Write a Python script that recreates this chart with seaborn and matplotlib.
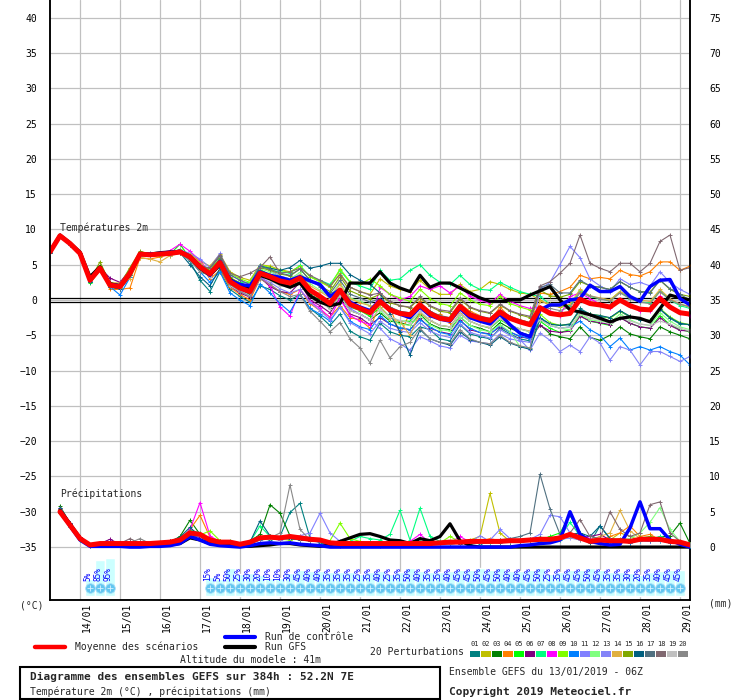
import numpy as np
import pandas as pd
import matplotlib
matplotlib.use("Agg")
import matplotlib.pyplot as plt
import seaborn as sns
from matplotlib.lines import Line2D
from matplotlib.patches import Rectangle
from matplotlib.transforms import ScaledTranslation

# 6-hourly steps from 13/01/2019 06Z (hours since start)
hours_temp = list(range(0, 385, 6))
hours_rain = list(range(6, 385, 6))

day_hours = list(range(18, 385, 24))
day_labels = ["14/01", "15/01", "16/01", "17/01", "18/01", "19/01", "20/01", "21/01",
              "22/01", "23/01", "24/01", "25/01", "26/01", "27/01", "28/01", "29/01"]

# --- temperature 2m (degC) ---
temp_mean = [6.8, 9.1, 8.0, 6.6, 2.8, 4.5, 2.1, 1.9, 3.8, 6.5, 6.4, 6.5, 6.6, 6.8, 6.1, 4.7,
             3.7, 5.3, 2.6, 1.7, 1.2, 3.8, 3.3, 2.7, 2.4, 3.1, 1.4, 0.5, -0.5, 1.4, -0.6, -1.2, -1.8,
             -0.2, -1.4, -1.9, -2.1, -0.7, -1.9, -2.6, -2.8, -0.9, -2.1, -2.6, -2.9, -1.7, -2.6, -3.1, -3.5,
             -1.1, -1.9, -2.1, -1.9, 0.1, -0.5, -0.7, -1.0, 0.0, -0.8, -1.3, -1.4, 0.2, -1.0, -1.8, -2.0]
temp_ctrl = [6.8, 9.1, 8.0, 6.6, 2.9, 4.5, 2.2, 2.0, 3.8, 6.5, 6.5, 6.6, 6.7, 6.9, 6.2, 4.8,
             3.5, 5.5, 2.8, 2.2, 2.0, 4.0, 3.5, 3.2, 2.8, 3.3, 2.7, 2.2, 0.5, 1.5, -0.3, -1.0, -1.5,
             0.0, -1.5, -2.0, -2.5, -1.0, -2.2, -2.7, -3.0, -1.2, -2.5, -3.0, -3.4, -2.0, -3.5, -4.7, -5.2,
             -1.4, -0.7, -0.7, 0.0, 0.2, 2.1, 1.2, 1.2, 1.9, 0.5, -0.2, 1.9, 2.8, 2.9, 0.2, -0.7]
temp_gfs = [6.9, 9.2, 8.1, 6.8, 3.3, 4.7, 2.3, 2.0, 3.6, 6.6, 6.5, 6.7, 6.8, 6.9, 6.0, 4.5,
            3.5, 5.0, 2.9, 2.0, 1.5, 3.5, 3.0, 2.3, 1.8, 2.4, 0.6, -0.3, -0.8, -0.5, 2.4, 2.4, 2.4,
            4.0, 2.4, 1.7, 1.2, 3.5, 1.8, 2.4, 2.4, 1.7, 1.0, 0.3, -0.2, -0.2, 0.0, 0.0, 0.7,
            1.3, 1.9, 0.0, -1.4, -1.7, -2.1, -2.6, -3.1, -2.6, -2.4, -2.6, -3.1, -1.2, 0.7, 0.3, 0.0]

temp_p01 = [7.0, 9.0, 7.8, 6.4, 2.5, 4.3, 1.8, 1.5, 3.2, 6.2, 6.3, 6.6, 6.7, 6.9, 5.5, 2.8,
            1.2, 4.0, 1.5, 0.5, -0.3, 2.0, 1.5, 0.6, 0.0, 0.8, -1.2, -2.3, -3.6, -2.0, -4.4, -5.2, -5.7,
            -3.3, -4.5, -5.0, -5.2, -3.8, -4.2, -5.5, -5.8, -3.5, -4.8, -5.2, -5.5, -4.0, -4.8, -5.5, -5.8,
            -2.5, -3.4, -3.6, -3.5, -1.2, -2.0, -2.4, -2.5, -1.6, -2.4, -2.8, -3.0, -1.3, -2.6, -3.4, -3.5]
temp_p02 = [6.9, 9.2, 8.1, 6.7, 2.9, 4.6, 2.4, 2.3, 4.2, 6.8, 6.6, 6.4, 6.3, 6.9, 6.6, 5.5,
            4.8, 6.5, 4.0, 3.2, 2.8, 5.0, 4.8, 4.3, 4.0, 4.8, 3.3, 2.6, 1.8, 3.8, 1.8, 1.2, 0.8,
            3.0, 2.0, 1.5, 1.2, 2.8, 1.5, 0.8, 0.8, 2.2, 1.2, 1.5, 2.6, 2.2, 1.5, 1.0, 0.8,
            0.0, -0.8, -1.0, -0.8, 1.2, 0.5, 0.2, 0.0, 1.2, 0.2, -0.3, -0.4, 1.2, 0.0, -0.6, -0.9]
temp_p03 = [6.7, 9.0, 7.9, 6.5, 2.6, 4.8, 2.0, 1.6, 3.5, 6.6, 6.5, 6.6, 6.7, 6.6, 5.8, 4.0,
            3.5, 5.0, 2.2, 1.5, 0.8, 3.9, 3.0, 2.3, 2.0, 2.6, 0.8, 0.0, -1.2, 0.6, -1.5, -2.0, -2.8,
            -1.8, -3.0, -3.2, -3.6, -2.0, -3.4, -4.0, -4.2, -2.4, -3.6, -4.0, -4.5, -3.2, -4.0, -4.6, -5.0,
            -3.5, -4.8, -5.2, -5.5, -3.8, -5.3, -5.7, -5.0, -3.8, -4.8, -5.2, -5.5, -3.8, -4.5, -5.0, -5.5]
temp_p04 = [6.8, 9.1, 8.0, 6.6, 2.7, 4.4, 1.5, 1.5, 1.7, 6.0, 5.8, 6.1, 6.5, 6.7, 6.2, 4.9,
            3.0, 4.2, 1.8, 0.8, 0.0, 3.0, 2.2, 1.2, 0.8, 1.5, -0.5, -1.5, -2.4, -0.8, -2.5, -2.8, -4.0,
            -0.5, -1.0, -4.8, -1.8, -0.2, -2.4, -2.0, -3.2, -0.5, -1.6, -2.2, -3.0, -1.0, -2.5, -2.8, -3.2,
            1.0, 0.8, 1.2, 1.8, 3.5, 3.0, 3.2, 3.0, 4.2, 3.6, 3.4, 4.0, 5.4, 5.4, 4.2, 4.8]
temp_p05 = [6.9, 9.0, 7.9, 6.5, 2.4, 4.2, 2.3, 1.7, 3.9, 6.4, 6.3, 6.5, 6.5, 7.9, 5.9, 4.3,
            4.2, 5.8, 3.3, 2.0, 1.8, 4.3, 3.6, 3.2, 2.6, 3.4, 1.3, 0.3, -0.6, 1.0, -1.0, -1.5, -2.3,
            -1.0, -2.4, -3.0, -3.0, -1.8, -2.9, -3.6, -3.8, -2.0, -3.0, -3.6, -4.0, -2.8, -3.6, -4.1, -4.5,
            -3.0, -4.0, -4.6, -4.2, -2.2, -3.0, -3.3, -3.6, -2.4, -3.3, -3.8, -4.0, -2.2, -3.5, -4.2, -4.5]
temp_p06 = [6.8, 9.1, 8.1, 6.7, 3.0, 4.6, 3.1, 2.5, 4.3, 6.7, 6.5, 6.6, 6.7, 6.8, 6.3, 5.0,
            3.3, 4.8, 2.0, 1.0, 0.4, 3.2, 1.9, 1.2, 1.0, 2.5, 0.0, -0.8, -1.8, 0.2, -2.0, -2.5, -3.5,
            -2.5, -3.4, -4.0, -4.2, -2.6, -4.0, -4.5, -4.8, -2.8, -4.2, -4.6, -4.8, -3.8, -4.5, -5.2, -5.5,
            -3.6, -4.4, -4.6, -4.4, -2.3, -3.0, -3.2, -3.5, -2.5, -3.3, -3.8, -4.0, -2.5, -3.6, -4.3, -4.4]
temp_p07 = [6.7, 9.0, 7.9, 6.5, 2.5, 4.4, 2.0, 1.8, 3.7, 6.4, 6.4, 6.6, 6.8, 7.0, 6.4, 5.2,
            4.0, 5.8, 3.0, 2.5, 2.5, 4.8, 4.2, 4.0, 3.8, 4.9, 3.3, 2.8, 2.2, 4.2, 2.5, 2.0, 1.5,
            4.2, 2.8, 3.0, 4.2, 5.0, 3.5, 2.5, 2.2, 3.5, 2.2, 1.5, 1.4, 2.5, 1.8, 1.2, 0.8,
            0.5, -0.6, -0.9, -0.8, 1.4, 0.5, 0.2, -0.1, 1.2, 0.2, -0.3, -0.4, 1.3, 0.0, -0.8, -1.2]
temp_p08 = [6.8, 9.1, 8.0, 6.6, 2.8, 4.5, 2.1, 1.9, 3.8, 6.5, 6.5, 6.7, 7.0, 7.9, 6.9, 5.6,
            3.8, 5.5, 2.5, 1.3, 0.5, 3.5, 2.0, -1.0, -2.3, 1.5, -0.2, -1.2, -2.5, 0.2, -2.2, -3.0, -3.5,
            1.8, 0.8, 0.0, 0.5, 2.0, 1.5, 2.0, 1.0, 2.0, 0.5, 0.0, -0.5, 0.8, -0.2, -0.8, -1.2,
            -1.0, -1.5, -2.2, 0.5, 1.0, 0.2, -0.6, -1.1, 0.2, -0.8, -1.5, -1.6, 0.6, -1.0, -1.8, -2.2]
temp_p09 = [6.9, 9.1, 8.0, 6.6, 2.9, 4.7, 2.2, 1.7, 3.6, 6.8, 6.2, 6.3, 6.4, 7.2, 6.0, 4.5,
            4.5, 6.2, 3.8, 3.0, 2.5, 5.0, 4.6, 4.2, 3.9, 4.8, 3.3, 2.6, 1.9, 4.4, 2.6, 2.2, 3.0,
            2.0, 0.8, 0.3, -0.2, 1.5, 0.2, -0.5, -0.8, 1.0, 0.0, -0.6, -0.8, 0.5, -0.5, -1.0, -1.4,
            -2.0, -3.2, -3.6, -3.4, -1.5, -2.0, -2.2, -2.6, -1.6, -2.3, -2.8, -2.9, -1.2, -2.4, -3.2, -3.5]
temp_p10 = [6.7, 9.0, 7.8, 6.4, 2.6, 4.3, 1.9, 0.7, 3.2, 6.3, 6.4, 6.5, 6.6, 6.8, 5.7, 4.0,
            2.5, 4.0, 1.0, 0.0, -0.8, 2.3, 1.0, -0.5, -1.7, 0.8, -1.2, -2.0, -3.0, -1.0, -3.0, -3.8, -4.2,
            -2.2, -3.4, -3.9, -4.2, -2.8, -3.8, -4.6, -4.9, -3.0, -4.0, -4.6, -4.9, -3.6, -4.6, -5.1, -5.5,
            -2.5, -3.6, -4.0, -3.8, -3.0, -4.2, -5.0, -6.6, -5.4, -7.1, -6.6, -7.1, -6.6, -7.3, -7.8, -9.2]
temp_p11 = [6.9, 9.2, 8.1, 6.7, 2.9, 4.6, 2.3, 2.1, 4.0, 6.6, 6.6, 6.7, 6.8, 7.1, 6.6, 5.8,
            4.6, 6.6, 3.5, 2.8, 2.2, 5.0, 4.2, 3.4, 3.0, 3.6, 1.6, 0.4, -0.8, 1.0, -1.2, -2.0, -2.8,
            -4.0, -5.5, -6.2, -7.1, -5.2, -5.8, -6.5, -6.8, -5.0, -5.8, -6.0, -6.2, -4.8, -5.5, -5.8, -6.0,
            1.5, 2.5, 5.0, 7.6, 6.0, 3.0, 2.0, 1.2, 3.0, 2.2, 2.5, 2.0, 4.0, 2.5, 1.5, 0.8]
temp_p12 = [6.8, 9.0, 8.0, 6.6, 2.8, 4.4, 2.0, 1.8, 3.9, 6.5, 6.3, 6.4, 6.6, 6.7, 6.0, 4.4,
            4.0, 5.6, 3.0, 2.2, 1.8, 4.4, 4.0, 3.3, 3.0, 3.9, 2.3, 1.4, 0.5, 2.4, 0.3, -0.2, -0.8,
            -1.5, -2.8, -3.4, -3.6, -2.2, -3.5, -4.2, -4.4, -2.4, -3.6, -4.2, -4.5, -3.5, -4.5, -6.6, -6.8,
            -2.8, -3.5, -4.0, -4.2, -2.0, -2.8, -3.0, -3.2, -2.0, -2.8, -3.4, -3.6, -1.8, -3.0, -3.8, -4.2]
temp_p13 = [6.8, 9.1, 7.9, 6.5, 2.7, 4.5, 2.2, 1.6, 3.5, 6.3, 6.4, 6.6, 6.7, 6.9, 6.2, 4.8,
            3.6, 5.2, 2.4, 1.3, 0.6, 3.2, 2.5, 1.6, 1.0, 1.5, -0.3, -1.5, -2.8, -1.0, -3.2, -4.0, -4.8,
            -3.0, -4.0, -4.4, -4.6, -3.2, -4.4, -5.0, -5.3, -3.4, -4.6, -5.0, -5.4, -4.2, -5.0, -5.6, -7.1,
            -4.7, -5.7, -7.3, -6.4, -7.3, -5.2, -6.1, -8.5, -6.6, -7.1, -9.2, -7.3, -7.3, -8.0, -8.7, -8.0]
temp_p14 = [6.9, 9.1, 8.1, 6.7, 2.9, 4.6, 2.5, 2.4, 3.0, 6.0, 5.8, 5.4, 6.3, 6.6, 6.5, 5.3,
            3.9, 5.4, 2.8, 1.9, 1.5, 4.0, 3.6, 3.0, 2.8, 3.6, 2.0, 1.2, 0.3, 2.2, 0.2, -0.4, -0.8,
            -1.0, -2.5, -3.0, -5.0, -1.8, -2.9, -3.6, -3.8, -1.8, -3.0, -3.6, -3.9, -2.6, -3.6, -4.1, -4.4,
            -0.2, -0.5, -0.9, -0.6, 1.5, 0.6, 0.3, 0.0, 1.2, 0.5, 0.0, -0.2, 1.5, 0.2, -0.6, -1.0]
temp_p15 = [6.8, 9.1, 8.0, 6.6, 2.8, 5.4, 2.4, 2.2, 4.6, 6.9, 6.5, 6.6, 6.6, 6.7, 6.2, 5.0,
            4.2, 5.9, 3.2, 2.4, 1.9, 4.6, 4.2, 3.7, 3.4, 4.4, 2.8, 2.0, 1.2, 3.3, 1.3, 0.7, 0.2,
            0.8, -0.4, -0.8, -1.1, 0.3, -0.9, -1.6, -1.8, 0.1, -1.1, -1.6, -1.9, -0.7, -1.6, -2.1, -2.5,
            1.4, 0.6, 0.4, 0.8, 2.6, 2.0, 1.8, 1.5, 2.6, 1.8, 1.2, 1.1, 2.8, 1.5, 0.8, 0.5]
temp_p16 = [6.7, 9.0, 7.9, 6.4, 2.6, 4.4, 1.9, 1.6, 3.6, 6.4, 6.5, 6.7, 6.8, 6.7, 5.0, 3.3,
            2.0, 4.5, 2.0, 1.5, 1.8, 4.8, 4.5, 4.2, 4.6, 5.6, 4.5, 4.8, 5.2, 5.2, 3.6, 2.8, 2.2,
            1.0, -2.0, -4.5, -7.8, -4.2, -5.5, -6.0, -6.4, -4.5, -5.6, -6.0, -6.4, -5.2, -6.1, -6.6, -7.0,
            -2.6, -3.4, -3.6, -3.4, -1.4, -2.0, -2.2, -2.5, -1.5, -2.3, -2.8, -2.9, -1.3, -2.5, -3.3, -3.5]
temp_p17 = [6.8, 9.0, 8.0, 6.6, 2.7, 4.5, 2.1, 1.8, 3.9, 6.6, 6.4, 6.5, 6.6, 6.8, 6.2, 4.9,
            4.5, 6.2, 3.6, 2.8, 2.2, 4.8, 4.4, 3.8, 3.5, 4.4, 2.8, 1.9, 0.9, 2.8, 0.8, 0.3, -0.3,
            0.2, -1.0, -1.6, -1.8, -0.4, -1.6, -2.2, -2.5, -0.6, -1.8, -2.3, -2.6, -1.4, -2.3, -2.8, -3.2,
            1.8, 2.2, 1.0, 1.0, 2.8, 2.0, 1.8, 1.5, 2.6, 1.8, 1.2, 1.0, 2.8, 1.6, 0.8, 0.0]
temp_p18 = [6.8, 9.1, 8.0, 6.6, 2.8, 4.5, 2.4, 2.2, 4.1, 6.6, 6.4, 6.5, 6.6, 6.8, 6.0, 4.5,
            4.6, 6.4, 3.8, 3.3, 3.8, 4.6, 6.1, 3.8, 4.0, 4.5, 3.5, 2.8, 2.0, 3.6, 1.8, 1.2, 0.7,
            1.0, -0.2, -0.8, -1.0, 0.5, -0.8, -1.4, -1.6, 0.3, -1.0, -1.5, -1.8, -0.6, -1.5, -2.0, -2.3,
            2.0, 2.6, 3.8, 5.2, 9.2, 5.2, 4.5, 4.0, 5.2, 5.2, 4.0, 5.2, 8.3, 9.2, 4.2, 4.6]
temp_p19 = [6.8, 9.1, 8.0, 6.6, 2.8, 4.5, 2.2, 2.0, 3.8, 6.5, 6.4, 6.5, 6.6, 6.8, 6.0, 4.2,
            3.3, 4.8, 2.0, 1.2, 0.6, 3.4, 2.8, 2.0, 1.8, 2.5, 0.7, -0.2, -1.3, 0.6, -1.5, -2.0, -2.8,
            -1.3, -2.4, -2.9, -3.2, -1.6, -2.8, -3.6, -3.8, -2.0, -3.0, -3.6, -3.9, -2.6, -3.6, -4.1, -4.5,
            -2.8, -3.6, -4.0, -3.8, -1.8, -2.6, -2.8, -3.2, -2.4, -3.0, -3.4, -3.6, -3.0, -3.4, -4.0, -4.4]
temp_p20 = [6.8, 9.1, 8.0, 6.6, 2.9, 4.6, 2.0, 1.7, 3.6, 6.4, 6.3, 6.4, 6.4, 6.6, 5.6, 4.0,
            3.5, 5.0, 2.3, 1.2, 0.5, 3.0, 2.2, 1.2, 0.5, 0.8, -1.6, -3.0, -4.5, -3.2, -5.5, -6.8, -8.9,
            -5.7, -8.2, -6.6, -6.0, -4.0, -5.5, -6.0, -6.2, -4.2, -5.5, -6.0, -6.2, -5.0, -6.0, -6.5, -6.8,
            -1.0, -1.2, -1.5, -1.0, 1.0, 0.6, 0.2, -0.2, 1.0, 0.2, -0.3, -0.5, 1.2, 0.0, -0.6, -1.0]

# --- 6h precipitation (mm), first value at 13/01 12Z ---
rain_mean = [5.0, 3.1, 1.2, 0.3, 0.5, 0.5, 0.5, 0.5, 0.5, 0.5, 0.6, 0.7, 1.0, 2.0, 1.8, 1.0,
             0.7, 0.7, 0.4, 0.7, 1.3, 1.4, 1.3, 1.5, 1.3, 1.1, 1.0, 0.6, 0.5, 0.5, 0.5, 0.5,
             0.5, 0.5, 0.5, 0.5, 0.5, 0.5, 0.6, 0.7, 0.7, 0.8, 0.8, 0.8, 0.8, 0.9, 0.9, 1.0,
             1.1, 1.1, 1.3, 1.8, 1.3, 0.8, 1.0, 0.9, 0.9, 0.8, 1.1, 1.1, 1.1, 0.8, 0.7, 0.3]
rain_ctrl = [5.0, 3.0, 1.0, 0.1, 0.1, 0.1, 0.1, 0.0, 0.0, 0.1, 0.1, 0.2, 0.5, 1.5, 1.0, 0.4,
             0.2, 0.1, 0.0, 0.2, 0.5, 0.6, 0.5, 0.6, 0.4, 0.3, 0.2, 0.0, 0.0, 0.0, 0.0, 0.0,
             0.0, 0.0, 0.0, 0.0, 0.0, 0.0, 0.0, 0.0, 0.0, 0.0, 0.0, 0.0, 0.0, 0.0, 0.2, 0.3,
             0.5, 0.6, 1.0, 5.0, 1.8, 0.8, 0.5, 0.3, 0.4, 2.7, 6.4, 2.6, 2.6, 1.0, 0.4, 0.0]
rain_gfs = [5.2, 3.3, 1.3, 0.2, 0.3, 0.4, 0.4, 0.4, 0.3, 0.2, 0.3, 0.3, 0.5, 1.3, 1.0, 0.5,
            0.3, 0.2, 0.1, 0.1, 0.2, 0.3, 0.5, 0.5, 0.3, 0.2, 0.1, 0.3, 0.8, 1.3, 1.8, 1.9,
            1.5, 1.0, 0.9, 0.5, 1.2, 0.9, 1.5, 3.3, 0.9, 0.2, 0.0, 0.0, 0.0, 0.0, 0.0, 0.0,
            0.0, 0.0, 0.0, 0.0, 0.0, 0.0, 0.0, 0.0, 0.0, 0.0, 0.0, 0.0, 0.0, 0.0, 0.0, 0.0]

rain_p01 = [5.5, 3.2, 1.3, 0.2, 0.4, 0.5, 0.4, 0.5, 0.6, 0.5, 0.4, 0.6, 0.9, 1.6, 1.5, 0.8,
            0.6, 0.5, 0.3, 0.6, 1.2, 1.0, 1.5, 4.9, 6.2, 1.3, 0.6, 0.3, 0.2, 0.3, 0.4, 0.3,
            0.2, 0.4, 0.6, 0.5, 0.3, 0.4, 0.5, 0.4, 0.6, 0.8, 0.5, 0.6, 0.9, 0.7, 0.8, 1.0,
            1.2, 1.0, 1.5, 2.0, 1.2, 0.6, 3.0, 1.2, 0.8, 0.6, 1.0, 0.9, 1.0, 0.7, 0.5, 0.2]
rain_p02 = [5.0, 3.0, 1.1, 0.3, 0.5, 0.4, 0.6, 0.5, 0.4, 0.6, 0.7, 0.8, 1.2, 2.2, 2.0, 1.1,
            0.8, 0.6, 0.4, 0.7, 1.5, 1.6, 1.2, 1.0, 1.3, 1.0, 0.8, 0.5, 0.6, 0.4, 0.5, 0.6,
            0.5, 0.6, 0.4, 0.5, 0.6, 0.4, 0.5, 0.8, 0.6, 1.0, 1.5, 7.6, 2.0, 0.8, 0.9, 1.0,
            0.8, 1.0, 1.2, 1.5, 1.0, 0.8, 1.2, 1.0, 2.0, 1.5, 1.0, 1.2, 0.9, 0.6, 0.5, 0.3]
rain_p03 = [5.8, 3.4, 1.4, 0.3, 0.4, 0.6, 0.5, 0.4, 0.5, 0.6, 0.5, 0.7, 1.5, 3.8, 1.8, 0.9,
            0.7, 0.6, 0.4, 0.8, 1.8, 6.0, 4.8, 1.6, 1.2, 0.9, 0.8, 0.4, 0.5, 0.3, 0.4, 0.5,
            0.4, 0.5, 0.6, 0.3, 0.5, 0.6, 0.4, 0.7, 0.5, 0.8, 0.9, 1.0, 0.8, 0.7, 1.0, 1.1,
            1.4, 1.2, 1.5, 1.8, 1.5, 0.9, 1.0, 1.1, 0.9, 0.8, 1.2, 1.0, 1.4, 1.6, 3.4, 0.5]
rain_p04 = [5.2, 3.1, 1.2, 0.2, 0.3, 0.5, 0.6, 0.5, 0.4, 0.5, 0.6, 0.7, 1.1, 2.5, 4.5, 1.4,
            0.8, 0.7, 0.3, 0.6, 1.3, 1.5, 1.0, 1.2, 1.6, 1.2, 0.9, 0.6, 0.5, 0.4, 0.4, 0.5,
            0.3, 0.5, 0.4, 0.6, 0.5, 0.4, 0.6, 0.5, 0.7, 0.9, 0.8, 1.2, 0.9, 1.0, 1.1, 0.8,
            1.0, 1.2, 1.1, 1.6, 1.3, 1.0, 0.8, 1.5, 2.0, 3.0, 1.5, 1.8, 1.0, 0.8, 0.6, 0.3]
rain_p05 = [4.8, 2.9, 1.0, 0.2, 0.4, 0.4, 0.5, 0.6, 0.4, 0.5, 0.6, 0.7, 1.0, 2.0, 1.6, 1.0,
            0.6, 0.8, 0.5, 0.6, 1.2, 1.3, 1.1, 1.4, 1.2, 1.0, 0.9, 0.5, 0.4, 0.5, 0.3, 0.4,
            0.5, 0.4, 0.5, 0.6, 0.7, 0.5, 0.4, 0.6, 0.8, 0.7, 0.6, 0.9, 0.8, 1.0, 0.7, 0.9,
            1.0, 1.5, 2.0, 4.5, 2.0, 1.0, 1.2, 0.9, 0.8, 1.0, 1.3, 1.0, 1.2, 0.8, 0.6, 0.3]
rain_p06 = [5.4, 3.3, 1.3, 0.3, 0.5, 1.1, 0.4, 0.5, 0.6, 0.4, 0.5, 0.6, 1.1, 1.8, 1.4, 0.8,
            0.7, 0.6, 0.4, 0.5, 1.2, 1.3, 1.4, 1.2, 1.1, 1.0, 0.8, 0.6, 0.5, 0.4, 0.5, 0.4,
            0.6, 0.5, 0.4, 0.5, 0.6, 0.5, 0.6, 0.5, 0.6, 0.8, 0.7, 0.8, 1.0, 0.9, 0.8, 1.0,
            1.1, 1.0, 1.3, 1.8, 1.4, 1.5, 1.8, 1.0, 0.9, 0.8, 1.0, 1.2, 1.0, 0.8, 0.7, 0.4]
rain_p07 = [5.0, 3.0, 1.2, 0.3, 0.4, 0.5, 0.5, 0.4, 0.5, 0.6, 0.5, 0.7, 1.0, 2.4, 2.0, 1.0,
            0.6, 0.5, 0.4, 0.7, 3.0, 1.5, 1.0, 1.2, 1.3, 1.1, 0.8, 0.5, 0.6, 0.8, 1.5, 1.2,
            1.0, 1.8, 5.2, 1.0, 5.5, 1.5, 0.8, 0.6, 0.5, 0.7, 0.8, 0.6, 0.7, 0.9, 1.0, 0.8,
            0.9, 1.0, 1.4, 3.5, 1.6, 1.0, 1.2, 1.0, 0.9, 0.8, 1.0, 1.1, 1.5, 0.9, 0.6, 0.3]
rain_p08 = [5.6, 3.4, 1.4, 0.3, 0.5, 0.4, 0.6, 0.5, 0.4, 0.5, 0.6, 0.8, 1.0, 2.5, 6.3, 1.6,
            0.7, 0.6, 0.4, 0.6, 1.1, 1.2, 1.0, 1.3, 1.2, 1.0, 0.9, 0.5, 0.4, 0.5, 0.6, 0.5,
            0.4, 0.5, 0.6, 0.8, 1.8, 0.6, 0.5, 0.6, 1.5, 0.7, 0.6, 0.8, 0.7, 0.9, 0.8, 1.0,
            1.2, 1.0, 1.6, 1.4, 1.8, 1.2, 1.0, 0.8, 0.9, 1.0, 1.2, 0.9, 1.0, 0.7, 0.5, 0.3]
rain_p09 = [5.1, 3.1, 1.2, 0.3, 0.4, 0.5, 0.4, 0.5, 0.5, 0.6, 0.5, 0.6, 0.9, 1.8, 1.7, 2.3,
            0.9, 0.6, 0.4, 0.5, 1.0, 1.2, 1.1, 1.0, 1.4, 1.2, 1.0, 0.9, 3.4, 1.2, 0.8, 0.5,
            0.6, 0.5, 0.6, 0.4, 0.5, 0.7, 0.6, 1.5, 0.7, 0.8, 0.6, 0.8, 1.0, 0.9, 1.0, 0.8,
            1.1, 1.3, 1.0, 1.6, 1.2, 1.0, 0.9, 1.1, 1.0, 0.9, 1.2, 1.0, 1.3, 0.9, 0.7, 0.4]
rain_p10 = [4.9, 2.9, 1.1, 0.2, 0.3, 0.4, 0.5, 0.4, 0.5, 0.4, 0.5, 0.6, 0.9, 1.7, 1.5, 0.9,
            0.6, 0.5, 0.3, 0.5, 1.0, 1.2, 1.1, 1.3, 1.0, 0.9, 0.7, 0.5, 0.4, 0.3, 0.4, 0.3,
            0.4, 0.3, 0.4, 0.5, 0.4, 0.3, 0.5, 0.4, 0.6, 0.5, 0.6, 0.7, 0.6, 0.8, 0.7, 0.9,
            1.0, 0.9, 1.0, 1.4, 1.1, 0.8, 0.9, 0.7, 0.8, 0.6, 0.9, 0.8, 0.9, 0.6, 0.5, 0.2]
rain_p11 = [5.3, 3.2, 1.3, 0.3, 0.5, 0.5, 0.6, 0.5, 0.4, 0.5, 0.6, 0.7, 1.1, 2.1, 1.9, 1.0,
            0.7, 0.6, 0.4, 0.6, 1.3, 1.4, 1.2, 1.5, 1.6, 2.0, 4.8, 2.0, 0.8, 0.5, 0.4, 0.5,
            0.6, 0.4, 0.5, 0.6, 0.5, 0.4, 0.6, 0.7, 0.5, 0.8, 0.9, 1.0, 2.5, 1.2, 1.0, 1.1,
            1.8, 4.5, 4.3, 2.0, 1.2, 0.9, 1.0, 1.1, 0.8, 1.0, 1.2, 1.1, 1.3, 0.8, 0.6, 0.3]
rain_p12 = [5.0, 3.0, 1.2, 0.3, 0.4, 0.5, 0.5, 0.4, 0.5, 0.6, 0.5, 0.6, 1.0, 1.9, 1.6, 1.0,
            0.7, 0.5, 0.3, 0.6, 1.2, 1.3, 1.2, 1.4, 1.2, 1.0, 0.8, 0.5, 0.4, 0.5, 0.4, 0.5,
            0.5, 0.6, 0.4, 0.5, 0.6, 0.4, 0.5, 0.6, 0.7, 0.6, 0.8, 0.7, 0.8, 0.9, 0.8, 1.0,
            1.1, 1.0, 1.2, 1.5, 1.2, 0.8, 1.0, 0.9, 1.0, 1.2, 2.0, 3.5, 5.6, 2.5, 0.8, 0.4]
rain_p13 = [5.2, 3.1, 1.2, 0.2, 0.4, 0.5, 0.4, 0.5, 0.6, 0.4, 0.6, 0.7, 1.0, 1.8, 1.5, 0.9,
            0.6, 0.7, 0.4, 0.5, 1.1, 1.2, 1.0, 1.2, 1.3, 1.4, 1.0, 0.6, 0.5, 0.4, 0.5, 0.4,
            0.5, 0.4, 0.6, 0.5, 0.4, 0.6, 0.5, 0.6, 0.5, 0.7, 1.6, 0.8, 0.9, 0.8, 0.9, 1.0,
            1.0, 1.2, 1.1, 1.3, 1.0, 0.8, 1.0, 1.2, 0.9, 0.8, 1.0, 0.9, 1.1, 0.7, 0.6, 0.3]
rain_p14 = [5.4, 3.3, 1.3, 0.3, 0.5, 0.4, 0.5, 0.6, 0.5, 0.5, 0.6, 0.7, 1.2, 2.0, 1.8, 1.0,
            0.7, 0.6, 0.4, 0.6, 1.2, 1.5, 1.3, 1.2, 1.4, 1.1, 0.9, 0.5, 0.5, 0.4, 0.5, 0.5,
            0.4, 0.6, 0.5, 0.4, 0.6, 0.5, 0.6, 0.5, 0.6, 0.8, 0.7, 0.9, 0.8, 1.0, 0.9, 1.0,
            1.2, 1.0, 1.4, 1.6, 1.3, 1.0, 1.5, 2.0, 5.2, 2.3, 1.2, 1.0, 1.1, 0.8, 0.6, 0.3]
rain_p15 = [5.0, 3.0, 1.1, 0.3, 0.5, 0.5, 0.5, 0.4, 0.5, 0.6, 0.5, 0.7, 1.3, 2.3, 1.7, 1.1,
            0.8, 0.6, 0.4, 0.8, 1.3, 1.4, 1.2, 1.3, 1.1, 1.0, 0.8, 0.5, 0.6, 0.5, 0.4, 0.6,
            0.5, 0.4, 0.5, 0.6, 0.5, 0.4, 0.6, 0.5, 0.7, 0.6, 0.8, 0.9, 0.7, 1.0, 0.8, 0.9,
            1.1, 1.0, 1.2, 1.7, 1.4, 0.9, 1.1, 1.0, 1.2, 1.0, 1.3, 1.5, 1.2, 0.8, 0.6, 0.3]
rain_p16 = [5.6, 3.4, 1.4, 0.3, 0.4, 0.5, 0.6, 0.5, 0.6, 0.5, 0.6, 0.8, 1.4, 2.8, 1.5, 0.9,
            0.6, 0.5, 0.4, 0.7, 3.7, 1.6, 1.3, 1.2, 1.0, 0.9, 0.8, 0.6, 0.5, 0.4, 0.5, 0.4,
            0.5, 0.6, 0.4, 0.5, 0.6, 0.5, 0.4, 0.6, 0.5, 0.7, 0.6, 0.8, 0.9, 0.8, 1.0, 0.9,
            1.0, 1.3, 1.4, 1.8, 2.0, 1.5, 3.0, 1.2, 1.0, 0.9, 1.1, 1.0, 1.2, 0.7, 0.5, 0.3]
rain_p17 = [5.3, 3.2, 1.2, 0.3, 0.4, 0.5, 0.5, 0.4, 0.5, 0.6, 0.5, 0.7, 1.1, 1.9, 1.7, 1.0,
            0.7, 0.6, 0.4, 0.6, 1.2, 1.3, 1.2, 1.4, 1.3, 1.0, 0.8, 0.5, 0.4, 0.5, 0.4, 0.5,
            0.5, 0.4, 0.6, 0.5, 0.4, 0.6, 0.5, 0.6, 0.6, 0.7, 0.8, 0.9, 1.0, 1.2, 1.5, 2.0,
            10.3, 5.4, 1.8, 1.5, 1.2, 1.0, 1.1, 0.9, 1.0, 0.8, 1.0, 1.1, 1.2, 0.8, 0.6, 0.3]
rain_p18 = [5.2, 3.1, 1.2, 0.3, 0.5, 0.4, 0.5, 1.2, 0.5, 0.6, 0.5, 0.7, 1.0, 2.0, 1.8, 1.0,
            0.7, 0.6, 0.4, 0.6, 1.2, 1.4, 1.3, 1.3, 1.2, 1.0, 0.9, 0.5, 0.5, 0.4, 0.5, 0.6,
            0.5, 0.6, 0.5, 0.4, 0.6, 0.5, 0.6, 0.5, 0.6, 0.8, 0.7, 0.8, 0.9, 1.0, 0.8, 1.0,
            1.1, 1.2, 1.5, 2.0, 3.9, 1.5, 1.2, 5.0, 2.5, 1.5, 2.0, 6.0, 6.4, 2.0, 0.8, 0.4]
rain_p19 = [5.1, 3.0, 1.2, 0.3, 0.4, 0.5, 0.4, 0.5, 0.6, 0.5, 0.6, 0.7, 1.0, 1.8, 1.6, 1.0,
            0.6, 0.5, 0.4, 0.6, 1.1, 1.2, 1.1, 1.3, 1.2, 1.0, 0.8, 0.5, 0.4, 0.5, 0.4, 0.5,
            0.4, 0.5, 0.6, 0.4, 0.5, 0.6, 0.5, 0.4, 0.6, 0.7, 0.6, 0.8, 0.9, 0.8, 1.0, 0.9,
            1.0, 1.1, 1.2, 1.4, 1.1, 0.9, 1.0, 1.1, 0.9, 0.8, 1.0, 1.1, 1.0, 0.8, 0.6, 0.3]
rain_p20 = [5.0, 3.1, 1.2, 0.3, 0.4, 0.5, 0.5, 0.6, 1.2, 0.5, 0.6, 0.7, 1.0, 1.9, 1.7, 1.0,
            0.7, 0.6, 0.4, 0.6, 1.2, 1.3, 2.0, 8.8, 2.5, 1.0, 0.8, 0.5, 0.4, 0.5, 0.4, 0.5,
            0.5, 0.4, 0.5, 0.6, 0.5, 0.4, 0.6, 0.5, 0.6, 0.8, 0.7, 0.8, 0.9, 0.8, 1.0, 0.9,
            1.0, 1.1, 1.3, 1.5, 1.2, 0.9, 1.0, 0.9, 1.0, 0.8, 1.0, 1.1, 1.2, 0.8, 0.6, 0.3]

# snow probability (%) per 6h step
snow_hours = [24, 30, 36] + list(range(96, 384, 6))
snow_pct = [5, 85, 95,
            15, 5, 50, 25, 30, 20, 10, 10, 30, 45, 40, 40, 35, 35, 35, 25,
            35, 40, 25, 35, 50, 40, 35, 35, 40, 45, 45, 50, 45, 50, 40, 40,
            45, 50, 25, 35, 45, 45, 50, 45, 35, 35, 30, 20, 35, 40, 45, 45]

member_ids = ["01", "02", "03", "04", "05", "06", "07", "08", "09", "10",
              "11", "12", "13", "14", "15", "16", "17", "18", "19", "20"]
member_colors = ["#008080", "#c0c000", "#008000", "#ff8000", "#00ff00", "#800080", "#00ff80",
                 "#ff00ff", "#80ff00", "#0080ff", "#8080ff", "#80ff80", "#8484f8", "#e0b040",
                 "#80a800", "#006080", "#507080", "#806870", "#c0c0c0", "#888888"]

temp_perts = [temp_p01, temp_p02, temp_p03, temp_p04, temp_p05, temp_p06, temp_p07, temp_p08,
              temp_p09, temp_p10, temp_p11, temp_p12, temp_p13, temp_p14, temp_p15, temp_p16,
              temp_p17, temp_p18, temp_p19, temp_p20]
rain_perts = [rain_p01, rain_p02, rain_p03, rain_p04, rain_p05, rain_p06, rain_p07, rain_p08,
              rain_p09, rain_p10, rain_p11, rain_p12, rain_p13, rain_p14, rain_p15, rain_p16,
              rain_p17, rain_p18, rain_p19, rain_p20]

df_temp = pd.concat([pd.DataFrame({"h": hours_temp, "v": v, "m": m})
                     for m, v in zip(member_ids, temp_perts)], ignore_index=True)
df_rain = pd.concat([pd.DataFrame({"h": hours_rain, "v": v, "m": m})
                     for m, v in zip(member_ids, rain_perts)], ignore_index=True)
pal = dict(zip(member_ids, member_colors))

sns.set_style("white")
plt.rcParams["font.family"] = ["DejaVu Sans Mono", "DejaVu Sans"]
plt.rcParams["font.size"] = 7

fig = plt.figure(figsize=(7.4, 7.0), dpi=100)
W, H = 740.0, 700.0
ax = fig.add_axes([50 / W, 100 / H, 640 / W, 600 / H])
ax.set_xlim(0, 384)
ax.set_ylim(-42.5, 42.5)

# grid
ax.set_yticks(range(-35, 45, 5))
ax.set_xticks(day_hours)
ax.set_xticklabels(day_labels, rotation=90)
ax.grid(True, color="#c0c0c0", lw=0.9)
ax.set_axisbelow(True)
ax.axhline(0.22, color="black", lw=0.9, zorder=2)
ax.axhline(-0.22, color="black", lw=0.9, zorder=2)

# temperature spaghetti
n0 = len(ax.lines)
sns.lineplot(data=df_temp, x="h", y="v", hue="m", palette=pal, lw=0.8, marker="+",
             markersize=3.5, legend=False, errorbar=None, sort=False, ax=ax, zorder=3)
for ln in ax.lines[n0:]:
    ln.set_markeredgecolor(ln.get_color())
    ln.set_markeredgewidth(0.7)
sns.lineplot(x=hours_temp, y=temp_gfs, color="black", lw=2.3, ax=ax, zorder=4)
sns.lineplot(x=hours_temp, y=temp_ctrl, color="#0000ff", lw=2.5, ax=ax, zorder=5)
sns.lineplot(x=hours_temp, y=temp_mean, color="#ff0000", lw=3.6, ax=ax, zorder=6)

# snow probability boxes and labels
box_h = [2.24 + 0.0326 * p for p in snow_pct]
ax.bar(snow_hours, box_h, bottom=-41.9, width=6, color="#ccffff", zorder=2.5)
sns.scatterplot(x=snow_hours, y=[-40.8] * len(snow_hours), marker="o", s=48,
                color="#62c6f0", edgecolor="#a8def8", linewidth=0.6, ax=ax, zorder=3)
sns.scatterplot(x=snow_hours, y=[-40.8] * len(snow_hours), marker="+", s=14,
                color="#d8f2ff", linewidth=0.6, ax=ax, zorder=3.1)
for h, p in zip(snow_hours, snow_pct):
    ax.text(h - 1.2, -39.75, f"{p}%", rotation=90, ha="center", va="bottom",
            color="#0000ff", fontsize=5.6, zorder=4)

ax.text(6, 10.2, "Températures 2m", fontsize=7, va="center", ha="left")
ax.text(6, -27.5, "Précipitations", fontsize=7, va="center", ha="left")

# precipitation on the right-hand (mm) scale
ax2 = ax.twinx()
ax2.set_ylim(-7.5, 77.5)
sns.lineplot(data=df_rain, x="h", y="v", hue="m", palette=pal, lw=0.8, marker="+",
             markersize=3.5, legend=False, errorbar=None, sort=False, ax=ax2, zorder=3)
for ln in ax2.lines:
    ln.set_markeredgecolor(ln.get_color())
    ln.set_markeredgewidth(0.7)
sns.lineplot(x=hours_rain, y=rain_gfs, color="black", lw=2.3, ax=ax2, zorder=4)
sns.lineplot(x=hours_rain, y=rain_ctrl, color="#0000ff", lw=2.5, ax=ax2, zorder=5)
sns.lineplot(x=hours_rain, y=rain_mean, color="#ff0000", lw=3.6, ax=ax2, zorder=6)
ax2.set_yticks(range(0, 80, 5))
ax2.set_xlim(0, 384)

for a in (ax, ax2):
    a.set_xlabel("")
    a.set_ylabel("")
    a.spines["top"].set_visible(False)
    for s in ("left", "right", "bottom"):
        a.spines[s].set_color("black")
        a.spines[s].set_linewidth(1.1)

ax.tick_params(axis="y", length=0, pad=9.4, labelsize=7, colors="black")
ax.tick_params(axis="x", length=0, pad=2, labelsize=7, colors="black")
ax2.tick_params(axis="y", length=0, pad=13.7, labelsize=7, colors="black")
shift = ScaledTranslation(7 / 100, 0, fig.dpi_scale_trans)
for lab in ax.get_xticklabels():
    lab.set_transform(lab.get_transform() + shift)


def fx(px):
    return px / W


def fy(py):
    return 1 - py / H


fig.text(fx(20), fy(606), "(°C)", fontsize=7, va="center", ha="left")
fig.text(fx(709), fy(604), "(mm)", fontsize=7, va="center", ha="left")

# bottom legend
fig.add_artist(Line2D([fx(35), fx(65)], [fy(647), fy(647)], color="#ff0000", lw=3.2))
fig.text(fx(75), fy(647), "Moyenne des scénarios", fontsize=7, va="center")
fig.add_artist(Line2D([fx(225), fx(255)], [fy(637), fy(637)], color="#0000ff", lw=3.0))
fig.text(fx(265), fy(637), "Run de contrôle", fontsize=7, va="center")
fig.add_artist(Line2D([fx(225), fx(255)], [fy(647), fy(647)], color="black", lw=3.0))
fig.text(fx(265), fy(647), "Run GFS", fontsize=7, va="center")
fig.text(fx(180), fy(660), "Altitude du modele : 41m", fontsize=7, va="center")
fig.text(fx(370), fy(652), "20 Perturbations", fontsize=7, va="center")
for i, (m, c) in enumerate(zip(member_ids, member_colors)):
    x0 = 470 + i * 10.95
    fig.add_artist(Rectangle((fx(x0), fy(656.5)), 10 / W, 6 / H, color=c, lw=0))
    fig.text(fx(x0 + 5), fy(644), m, fontsize=5, va="center", ha="center")

fig.add_artist(Rectangle((fx(20), fy(699)), 420 / W, 32 / H, fill=False,
                         edgecolor="black", lw=1.5))
fig.text(fx(30), fy(677), "Diagramme des ensembles GEFS sur 384h : 52.2N 7E",
         fontsize=8, fontweight="bold", va="center")
fig.text(fx(30), fy(692), "Température 2m (°C) , précipitations (mm)", fontsize=7, va="center")
fig.text(fx(449), fy(672), "Ensemble GEFS du 13/01/2019 - 06Z", fontsize=7, va="center")
fig.text(fx(449), fy(692), "Copyright 2019 Meteociel.fr", fontsize=8, fontweight="bold",
         va="center")

fig.savefig("out.png", dpi=100, facecolor="white")
